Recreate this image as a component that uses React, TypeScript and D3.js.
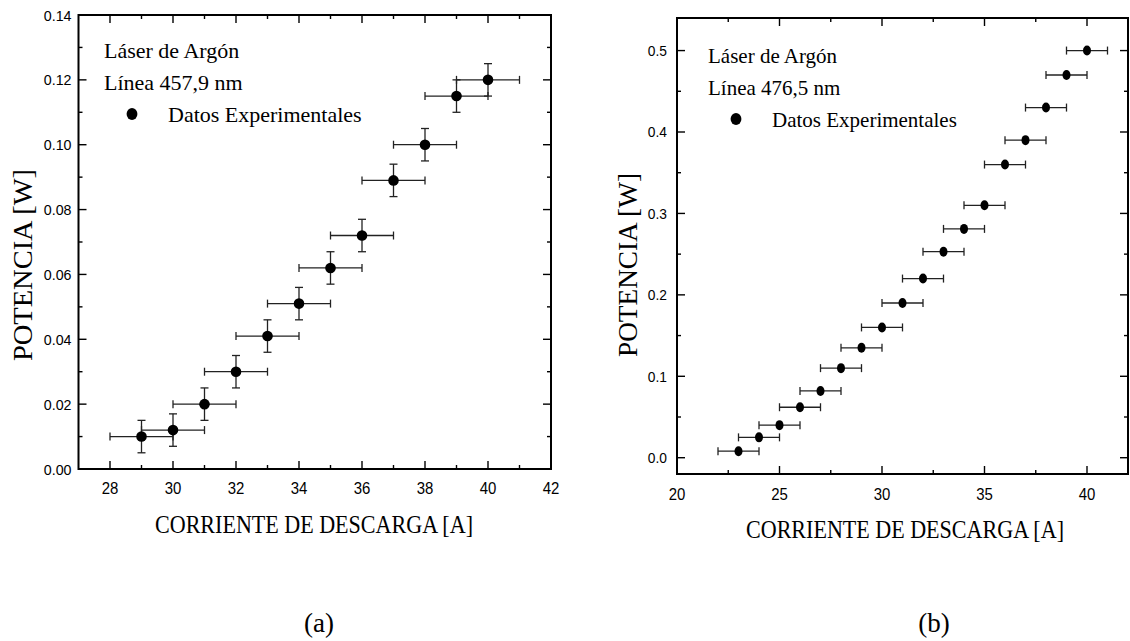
import React from "react";
import * as d3 from "d3";

// Panel (a): Línea 457,9 nm
const corrienteA = [29, 30, 31, 32, 33, 34, 35, 36, 37, 38, 39, 40];
const potenciaA = [0.010, 0.012, 0.020, 0.030, 0.041, 0.051, 0.062, 0.072, 0.089, 0.100, 0.115, 0.120];
const errCorrienteA = [1, 1, 1, 1, 1, 1, 1, 1, 1, 1, 1, 1];
const errPotenciaA = [0.005, 0.005, 0.005, 0.005, 0.005, 0.005, 0.005, 0.005, 0.005, 0.005, 0.005, 0.005];
const xTicksA = [28, 30, 32, 34, 36, 38, 40, 42];
const yTicksA = [0, 0.02, 0.04, 0.06, 0.08, 0.1, 0.12, 0.14];

// Panel (b): Línea 476,5 nm
const corrienteB = [23, 24, 25, 26, 27, 28, 29, 30, 31, 32, 33, 34, 35, 36, 37, 38, 39, 40];
const potenciaB = [0.008, 0.025, 0.040, 0.062, 0.082, 0.110, 0.135, 0.160, 0.190, 0.220, 0.253, 0.281, 0.310, 0.360, 0.390, 0.430, 0.470, 0.500];
const errCorrienteB = [1, 1, 1, 1, 1, 1, 1, 1, 1, 1, 1, 1, 1, 1, 1, 1, 1, 1];
const xTicksB = [20, 25, 30, 35, 40];
const yTicksB = [0, 0.1, 0.2, 0.3, 0.4, 0.5];

const SERIF = "'Liberation Serif', 'Times New Roman', serif";
const SANS = "'Liberation Sans', Arial, sans-serif";

type PanelProps = {
  xs: number[];
  ys: number[];
  xErr: number[];
  yErr?: number[];
  xDomain: [number, number];
  yDomain: [number, number];
  xRange: [number, number];
  yRange: [number, number];
  xTicks: number[];
  xMinor: number[];
  yTicks: number[];
  yMinor: number[];
  yFmt: (v: number) => string;
  line: string;
  legendX: number;
  legendY: number;
  legendFont: number;
  yLabelX: number;
  yLabelLen: number;
  yTickGap: number;
  yTickFont: number;
  xTickBase: number;
  xTitleBase: number;
  xTitleX: number;
  rx: number;
  ry: number;
  panelLabel: string;
  panelLabelX: number;
};

function Panel(p: PanelProps) {
  const x = d3.scaleLinear().domain(p.xDomain).range(p.xRange);
  const y = d3.scaleLinear().domain(p.yDomain).range(p.yRange);
  const [x0, x1] = p.xRange;
  const [y0, y1] = p.yRange; // y0 bottom, y1 top
  const major = 8;
  const minor = 4;
  const cap = 4;
  const tickStroke = 1.4;
  return (
    <g>
      {/* error bars */}
      {p.xs.map((v, i) => {
        const px = x(v);
        const py = y(p.ys[i]);
        const xl = x(v - p.xErr[i]);
        const xr = x(v + p.xErr[i]);
        return (
          <g key={"e" + i} stroke="#222" strokeWidth={1.3}>
            <line x1={xl} x2={xr} y1={py} y2={py} />
            <line x1={xl} x2={xl} y1={py - cap} y2={py + cap} />
            <line x1={xr} x2={xr} y1={py - cap} y2={py + cap} />
            {p.yErr && (
              <>
                <line x1={px} x2={px} y1={y(p.ys[i] - p.yErr[i])} y2={y(p.ys[i] + p.yErr[i])} />
                <line x1={px - cap} x2={px + cap} y1={y(p.ys[i] - p.yErr[i])} y2={y(p.ys[i] - p.yErr[i])} />
                <line x1={px - cap} x2={px + cap} y1={y(p.ys[i] + p.yErr[i])} y2={y(p.ys[i] + p.yErr[i])} />
              </>
            )}
          </g>
        );
      })}
      {p.xs.map((v, i) => (
        <ellipse key={"m" + i} cx={x(v)} cy={y(p.ys[i])} rx={p.rx} ry={p.ry} fill="#000" />
      ))}
      {/* frame */}
      <rect x={x0} y={y1} width={x1 - x0} height={y0 - y1} fill="none" stroke="#000" strokeWidth={2} />
      {/* x ticks */}
      {p.xTicks.map((t) => (
        <g key={"xt" + t} stroke="#000" strokeWidth={tickStroke}>
          <line x1={x(t)} x2={x(t)} y1={y0} y2={y0 - major} />
          <line x1={x(t)} x2={x(t)} y1={y1} y2={y1 + major} />
        </g>
      ))}
      {p.xMinor.map((t) => (
        <g key={"xm" + t} stroke="#000" strokeWidth={tickStroke}>
          <line x1={x(t)} x2={x(t)} y1={y0} y2={y0 - minor} />
          <line x1={x(t)} x2={x(t)} y1={y1} y2={y1 + minor} />
        </g>
      ))}
      {p.yTicks.map((t) => (
        <g key={"yt" + t} stroke="#000" strokeWidth={tickStroke}>
          <line x1={x0} x2={x0 + major} y1={y(t)} y2={y(t)} />
          <line x1={x1} x2={x1 - major} y1={y(t)} y2={y(t)} />
        </g>
      ))}
      {p.yMinor.map((t) => (
        <g key={"ym" + t} stroke="#000" strokeWidth={tickStroke}>
          <line x1={x0} x2={x0 + minor} y1={y(t)} y2={y(t)} />
          <line x1={x1} x2={x1 - minor} y1={y(t)} y2={y(t)} />
        </g>
      ))}
      {/* tick labels */}
      {p.xTicks.map((t) => (
        <text
          key={"xl" + t}
          transform={`translate(${x(t)},${p.xTickBase}) scale(0.88,1)`}
          textAnchor="middle"
          fontFamily={SANS}
          fontSize={17}
          fill="#000"
        >
          {t}
        </text>
      ))}
      {p.yTicks.map((t) => (
        <text
          key={"yl" + t}
          transform={`translate(${x0 - p.yTickGap},${y(t)}) scale(0.92,1)`}
          dy="0.36em"
          textAnchor="end"
          fontFamily={SANS}
          fontSize={p.yTickFont}
          fill="#000"
        >
          {p.yFmt(t)}
        </text>
      ))}
      {/* axis titles */}
      <text
        x={p.xTitleX}
        y={p.xTitleBase}
        textAnchor="middle"
        fontFamily={SERIF}
        fontSize={26}
        textLength={318}
        lengthAdjust="spacingAndGlyphs"
        fill="#000"
      >
        CORRIENTE DE DESCARGA [A]
      </text>
      <text
        transform={`translate(${p.yLabelX},265) rotate(-90)`}
        textAnchor="middle"
        fontFamily={SERIF}
        fontSize={27}
        textLength={p.yLabelLen}
        lengthAdjust="spacingAndGlyphs"
        fill="#000"
      >
        POTENCIA [W]
      </text>
      {/* legend */}
      <text x={p.legendX} y={p.legendY} fontFamily={SERIF} fontSize={p.legendFont} fill="#000">
        Láser de Argón
      </text>
      <text x={p.legendX} y={p.legendY + 32} fontFamily={SERIF} fontSize={p.legendFont} fill="#000">
        {p.line}
      </text>
      <ellipse cx={p.legendX + 28} cy={p.legendY + 56} rx={5.4} ry={6} fill="#000" />
      <text x={p.legendX + 64} y={p.legendY + 64} fontFamily={SERIF} fontSize={p.legendFont} fill="#000">
        Datos Experimentales
      </text>
      <text x={p.panelLabelX} y={632} textAnchor="middle" fontFamily={SERIF} fontSize={27} fill="#000">
        {p.panelLabel}
      </text>
    </g>
  );
}

export default function App() {
  const xMinorA = d3.range(29, 42, 2);
  const yMinorA = d3.range(0.01, 0.14, 0.02);
  const xMinorB = d3.range(22.5, 42, 5);
  const yMinorB = d3.range(0.05, 0.54, 0.1);
  return (
    <svg
      width={1130}
      height={641}
      style={{ position: "absolute", left: 0, top: 0, background: "#fff" }}
    >
      <rect x={0} y={0} width={1130} height={641} fill="#fff" />
      <Panel
        xs={corrienteA}
        ys={potenciaA}
        xErr={errCorrienteA}
        yErr={errPotenciaA}
        xDomain={[27, 42]}
        yDomain={[0, 0.14]}
        xRange={[78.5, 551]}
        yRange={[469, 15]}
        xTicks={xTicksA}
        xMinor={xMinorA}
        yTicks={yTicksA}
        yMinor={yMinorA}
        yFmt={(v) => v.toFixed(2)}
        line="Línea 457,9 nm"
        legendX={104}
        legendY={58}
        legendFont={22}
        yLabelX={32}
        yLabelLen={192}
        yTickGap={7}
        yTickFont={15.5}
        xTickBase={494}
        xTitleBase={533}
        xTitleX={314}
        rx={5.3}
        ry={5.3}
        panelLabel="(a)"
        panelLabelX={319}
      />
      <Panel
        xs={corrienteB}
        ys={potenciaB}
        xErr={errCorrienteB}
        xDomain={[20, 42]}
        yDomain={[-0.02, 0.54]}
        xRange={[677, 1128]}
        yRange={[474, 18]}
        xTicks={xTicksB}
        xMinor={xMinorB}
        yTicks={yTicksB}
        yMinor={yMinorB}
        yFmt={(v) => v.toFixed(1)}
        line="Línea 476,5 nm"
        legendX={708}
        legendY={63}
        legendFont={21}
        yLabelX={637}
        yLabelLen={184}
        yTickGap={10}
        yTickFont={15}
        xTickBase={500}
        xTitleBase={538}
        xTitleX={905}
        rx={4}
        ry={5}
        panelLabel="(b)"
        panelLabelX={934}
      />
    </svg>
  );
}
